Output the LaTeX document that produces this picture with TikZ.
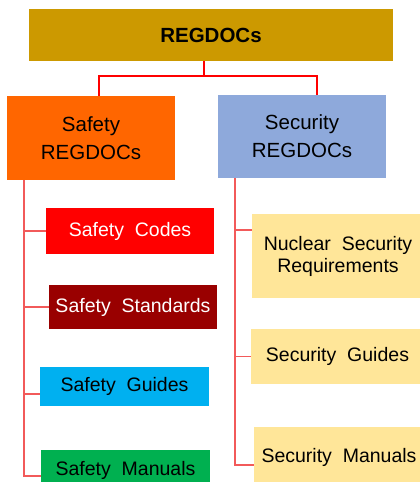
\documentclass[tikz,border=0pt]{standalone}
\usepackage{fontspec}
\setmainfont{Liberation Sans}
\definecolor{gold}{HTML}{CC9900}
\definecolor{orng}{HTML}{FF6600}
\definecolor{blu}{HTML}{8EA9DB}
\definecolor{codered}{HTML}{FF0000}
\definecolor{stdred}{HTML}{990000}
\definecolor{sky}{HTML}{00B0F0}
\definecolor{grn}{HTML}{00B050}
\definecolor{ylw}{HTML}{FFE699}
\definecolor{linkred}{HTML}{F25A5A}
\tikzset{
  box/.style={rectangle, inner sep=0pt, align=center, draw=none},
  bigtxt/.style={font=\fontsize{20.5}{28}\selectfont},
  subtxt/.style={font=\fontsize{19.5}{22}\selectfont},
  link/.style={draw=linkred, line width=1.6pt},
}
\begin{document}
\begin{tikzpicture}[x=1pt,y=-1pt]
\useasboundingbox (0,0) rectangle (420,482);
\clip (0,0) rectangle (420,482);
\node[box, fill=gold, minimum width=364pt, minimum height=52pt, font=\fontsize{20.5}{24}\selectfont\bfseries] (top) at (211,35) {REGDOCs};
\node[box, bigtxt, fill=orng, minimum width=168pt, minimum height=84pt] (safety) at (91,138) {Safety\\REGDOCs};
\node[box, bigtxt, fill=blu, minimum width=168pt, minimum height=83pt] (security) at (302,136.5) {Security\\REGDOCs};
\node[box, subtxt, fill=codered, text=white, minimum width=168pt, minimum height=46pt] (codes) at (130,231) {Safety\ \ Codes};
\node[box, subtxt, fill=stdred, text=white, minimum width=168pt, minimum height=44pt] (standards) at (133,307) {Safety\ \ Standards};
\node[box, subtxt, fill=sky, minimum width=169pt, minimum height=39pt] (guides) at (124.5,386.5) {Safety\ \ Guides};
\node[box, subtxt, fill=grn, minimum width=169pt, minimum height=40pt] (manuals) at (125.5,470) {Safety\ \ Manuals};
\node[box, subtxt, fill=ylw, minimum width=172pt, minimum height=84pt] (nuclear) at (338,256) {Nuclear\ \ Security\\Requirements};
\node[box, subtxt, fill=ylw, minimum width=173pt, minimum height=55pt] (secguides) at (337.5,356.5) {Security\ \ Guides};
\node[box, subtxt, fill=ylw, minimum width=170pt, minimum height=60pt] (secmanuals) at (339,457) {Security\ \ Manuals};
% top connectors
\draw[link, draw=red] ([xshift=-7pt]top.south) -- ([xshift=-7pt,yshift=-15pt]top.south) -| ([xshift=8pt]safety.north);
\draw[link, draw=red] ([xshift=-7pt,yshift=-15pt]top.south) -| ([xshift=15pt]security.north);
% safety tree
\draw[link] ([xshift=17pt]safety.south west) |- ([yshift=-6pt]manuals.west);
\draw[link] ([xshift=17pt]safety.south west) |- (codes.west);
\draw[link] ([xshift=17pt]safety.south west) |- (standards.west);
\draw[link] ([xshift=17pt]safety.south west) |- ([yshift=-7.5pt]guides.west);
% security tree
\draw[link] ([xshift=17pt]security.south west) |- ([yshift=-8pt]secmanuals.west);
\draw[link] ([xshift=17pt]security.south west) |- ([yshift=26pt]nuclear.west);
\draw[link] ([xshift=17pt]security.south west) |- (secguides.west);
\end{tikzpicture}
\end{document}
